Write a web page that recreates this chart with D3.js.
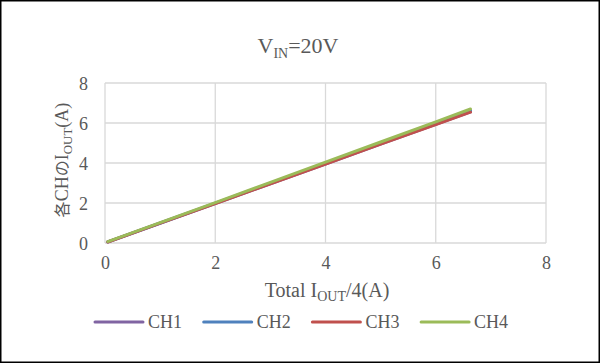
<!DOCTYPE html>
<html>
<head>
<meta charset="utf-8">
<script src="https://cdn.jsdelivr.net/npm/d3@7"></script>
<style>
  body { margin: 0; background: #fff; }
  text { font-family: "Liberation Serif", "DejaVu Serif", serif; fill: #595959; }
</style>
</head>
<body>
<div id="chart"></div>
<script>
// Values
var xValues = [0.05, 1, 2, 3, 4, 5, 6, 6.63];
var ch1 = [0.05, 0.98, 1.97, 2.96, 3.95, 4.94, 5.93, 6.56];
var ch2 = [0.06, 1.00, 1.99, 2.99, 3.99, 4.99, 5.99, 6.62];
var ch3 = [0.05, 0.99, 1.97, 2.96, 3.95, 4.94, 5.92, 6.54];
var ch4 = [0.07, 1.02, 2.02, 3.03, 4.04, 5.05, 6.06, 6.70];
var seriesNames = ["CH1", "CH2", "CH3", "CH4"];
var seriesColors = ["#8064a2", "#4f81bd", "#c0504d", "#9bbb59"];
var tickValues = [0, 2, 4, 6, 8];

var W = 600, H = 363;
var svg = d3.select("#chart").append("svg").attr("width", W).attr("height", H);

svg.append("rect").attr("x", 0.75).attr("y", 0.75)
  .attr("width", W - 1.5).attr("height", H - 1.5)
  .attr("fill", "#fff").attr("stroke", "#000").attr("stroke-width", 1.5);

var xScale = d3.scaleLinear().domain([0, 8]).range([105, 546]);
var yScale = d3.scaleLinear().domain([0, 8]).range([243, 83]);

// grid
var grid = svg.append("g");
grid.selectAll(".gx").data(tickValues).enter().append("line")
  .attr("x1", function(d) { return xScale(d); }).attr("x2", function(d) { return xScale(d); })
  .attr("y1", yScale(0)).attr("y2", yScale(8))
  .attr("stroke", "#d9d9d9").attr("stroke-width", 1.3);
grid.selectAll(".gy").data(tickValues).enter().append("line")
  .attr("y1", function(d) { return yScale(d); }).attr("y2", function(d) { return yScale(d); })
  .attr("x1", xScale(0)).attr("x2", xScale(8))
  .attr("stroke", "#d9d9d9").attr("stroke-width", 1.3);

// axes (labels only)
var xAxis = d3.axisBottom(xScale).tickValues(tickValues).tickSize(0).tickPadding(13);
var yAxis = d3.axisLeft(yScale).tickValues(tickValues).tickSize(0).tickPadding(17);
var gx = svg.append("g").attr("transform", "translate(0," + yScale(0) + ")").call(xAxis);
var gy = svg.append("g").attr("transform", "translate(" + xScale(0) + ",0)").call(yAxis);
[gx, gy].forEach(function(g) {
  g.select(".domain").remove();
  g.selectAll("text").style("font-size", "18px").style("font-family", "Liberation Serif, serif").attr("fill", "#595959");
});
gx.selectAll("text").attr("dy", "0.71em");
gy.selectAll("text").attr("dy", "0.35em");

// lines
var data = [ch1, ch2, ch3, ch4];
var line = d3.line()
  .x(function(d, i) { return xScale(xValues[i]); })
  .y(function(d) { return yScale(d); });
svg.append("g").selectAll("path").data(data).enter().append("path")
  .attr("d", line)
  .attr("fill", "none")
  .attr("stroke", function(d, i) { return seriesColors[i]; })
  .attr("stroke-width", 3)
  .attr("stroke-linecap", "round");

// title
var title = svg.append("text").attr("x", 298).attr("y", 53).attr("text-anchor", "middle")
  .style("font-size", "22px");
title.append("tspan").text("V");
title.append("tspan").attr("dy", 5).style("font-size", "14px").text("IN");
title.append("tspan").attr("dy", -5).text("=20V");

// y label
var yl = svg.append("text").attr("transform", "translate(68,160) rotate(-90)")
  .attr("text-anchor", "middle").style("font-size", "18px");
yl.append("tspan").style("font-family", "Noto Sans CJK JP").style("font-size", "16px").text("各");
yl.append("tspan").text("CH");
yl.append("tspan").style("font-family", "Noto Sans CJK JP").style("font-size", "16px").text("の");
yl.append("tspan").text("I");
yl.append("tspan").attr("dy", 4).style("font-size", "13px").text("OUT");
yl.append("tspan").attr("dy", -4).text("(A)");

// x label
var xl = svg.append("text").attr("x", 327).attr("y", 297).attr("text-anchor", "middle")
  .style("font-size", "20px");
xl.append("tspan").text("Total I");
xl.append("tspan").attr("dy", 4).style("font-size", "14px").text("OUT");
xl.append("tspan").attr("dy", -4).text("/4(A)");

// legend
var legend = svg.append("g").selectAll("g").data(seriesNames).enter().append("g")
  .attr("transform", function(d, i) { return "translate(" + (95 + i * 108.7) + ",322)"; });
legend.append("line").attr("x1", 0).attr("x2", 48).attr("y1", 0).attr("y2", 0)
  .attr("stroke", function(d, i) { return seriesColors[i]; })
  .attr("stroke-width", 3).attr("stroke-linecap", "round");
legend.append("text").attr("x", 53).attr("y", 0).attr("dy", "0.35em")
  .style("font-size", "18px").text(function(d) { return d; });
</script>
</body>
</html>
